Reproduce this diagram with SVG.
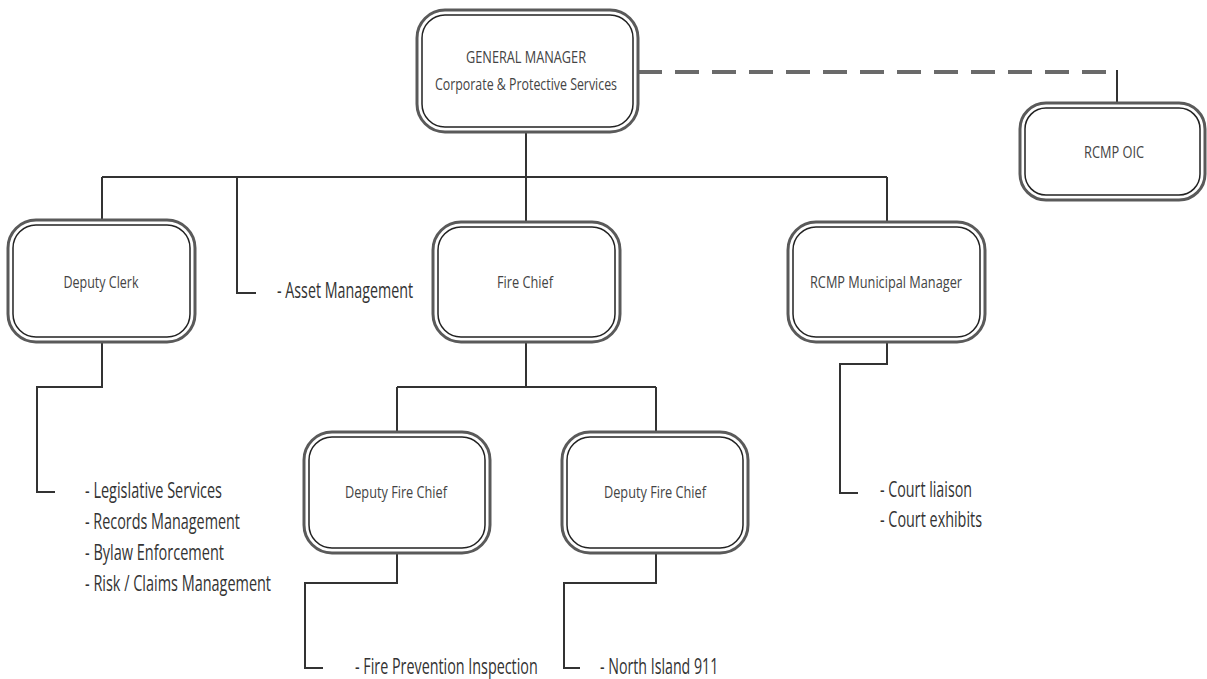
<svg xmlns="http://www.w3.org/2000/svg" width="1207" height="679" viewBox="0 0 1207 679">
<style>
.outer{fill:#fff;stroke:#5a5a5a;stroke-width:3}
.inner{fill:none;stroke:#222;stroke-width:1.5}
.lbl{font-family:"Open Sans","Liberation Sans",sans-serif;font-size:16px;fill:#444;text-anchor:middle}
.lst{font-family:"Open Sans","Liberation Sans",sans-serif;font-size:21px;fill:#333}
.conn{fill:none;stroke:#333;stroke-width:2}
.dash{fill:none;stroke:#6a6a6a;stroke-width:4;stroke-dasharray:24 13}
</style>
<rect width="1207" height="679" fill="#fff"/>
<g id="connectors">
<path class="dash" d="M638 72 H1112"/>
<path class="conn" d="M1117 70 V103" stroke-width="1.5"/>
<path class="conn" d="M526 132 V177 M102 177 H887 M102 177 V220 M526 177 V222 M887 177 V222"/>
<path class="conn" d="M237 177 V293 H256"/>
<path class="conn" d="M102 342 V387 H37 V492 H55"/>
<path class="conn" d="M526 342 V387 M397 387 H656 M397 387 V432 M656 387 V432"/>
<path class="conn" d="M397 553 V583 H305 V668 H323"/>
<path class="conn" d="M656 553 V583 H564 V668 H580"/>
<path class="conn" d="M887 342 V364 H840 V493 H858"/>
</g>
<g id="gm">
<rect class="outer" x="417" y="10" width="221" height="122" rx="28"/>
<rect class="inner" x="422" y="15" width="211" height="112" rx="23"/>
<text class="lbl" x="526" y="63" font-size="17" textLength="120" lengthAdjust="spacingAndGlyphs">GENERAL MANAGER</text>
<text class="lbl" x="526" y="90" font-size="17" textLength="182" lengthAdjust="spacingAndGlyphs">Corporate &amp; Protective Services</text>
</g>
<g id="rcmp-oic">
<rect class="outer" x="1020" y="103" width="185" height="97" rx="26"/>
<rect class="inner" x="1025" y="108" width="175" height="87" rx="21"/>
<text class="lbl" x="1114" y="158" textLength="60" lengthAdjust="spacingAndGlyphs">RCMP OIC</text>
</g>
<g id="deputy-clerk">
<rect class="outer" x="8" y="220" width="187" height="122" rx="28"/>
<rect class="inner" x="13" y="225" width="177" height="112" rx="23"/>
<text class="lbl" x="101" y="288" textLength="75" lengthAdjust="spacingAndGlyphs">Deputy Clerk</text>
</g>
<g id="asset-management">
<text class="lst" x="277" y="298" textLength="136" lengthAdjust="spacingAndGlyphs">- Asset Management</text>
</g>
<g id="fire-chief">
<rect class="outer" x="433" y="222" width="187" height="120" rx="28"/>
<rect class="inner" x="438" y="227" width="177" height="110" rx="23"/>
<text class="lbl" x="525" y="288" textLength="56" lengthAdjust="spacingAndGlyphs">Fire Chief</text>
</g>
<g id="rcmp-mm">
<rect class="outer" x="788" y="222" width="197" height="120" rx="28"/>
<rect class="inner" x="793" y="227" width="187" height="110" rx="23"/>
<text class="lbl" x="886" y="288" textLength="152" lengthAdjust="spacingAndGlyphs">RCMP Municipal Manager</text>
</g>
<g id="dfc1">
<rect class="outer" x="304" y="432" width="186" height="121" rx="28"/>
<rect class="inner" x="309" y="437" width="176" height="111" rx="23"/>
<text class="lbl" x="396" y="498" textLength="102" lengthAdjust="spacingAndGlyphs">Deputy Fire Chief</text>
</g>
<g id="dfc2">
<rect class="outer" x="562" y="432" width="186" height="121" rx="28"/>
<rect class="inner" x="567" y="437" width="176" height="111" rx="23"/>
<text class="lbl" x="655" y="498" textLength="102" lengthAdjust="spacingAndGlyphs">Deputy Fire Chief</text>
</g>
<g id="clerk-list">
<text class="lst" x="85" y="498" textLength="137" lengthAdjust="spacingAndGlyphs">- Legislative Services</text>
<text class="lst" x="85" y="529" textLength="155" lengthAdjust="spacingAndGlyphs">- Records Management</text>
<text class="lst" x="85" y="560" textLength="139" lengthAdjust="spacingAndGlyphs">- Bylaw Enforcement</text>
<text class="lst" x="85" y="591" textLength="186" lengthAdjust="spacingAndGlyphs">- Risk / Claims Management</text>
</g>
<g id="rcmp-list">
<text class="lst" x="880" y="497" textLength="92" lengthAdjust="spacingAndGlyphs">- Court liaison</text>
<text class="lst" x="880" y="527" textLength="102" lengthAdjust="spacingAndGlyphs">- Court exhibits</text>
</g>
<g id="dfc1-list">
<text class="lst" transform="translate(355 674) scale(0.7 1)" x="0" y="0" font-size="20" textLength="261" lengthAdjust="spacingAndGlyphs">- Fire Prevention Inspection</text>
</g>
<g id="dfc2-list">
<text class="lst" transform="translate(600 674) scale(0.7 1)" x="0" y="0" font-size="20" textLength="169" lengthAdjust="spacingAndGlyphs">- North Island 911</text>
</g>
</svg>
